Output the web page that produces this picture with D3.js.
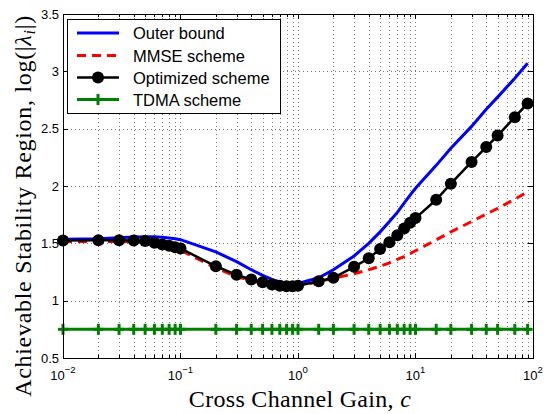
<!DOCTYPE html>
<html>
<head>
<meta charset="utf-8">
<script src="https://cdn.jsdelivr.net/npm/d3@7/dist/d3.min.js"></script>
<style>
  html, body { margin: 0; padding: 0; background: #fff; }
  svg { display: block; }
</style>
</head>
<body>
<svg id="chart" width="544" height="414"></svg>
<script>
// Cross channel gain samples (x axis, log scale)
const cGain = [0.01, 0.02, 0.03, 0.04, 0.05, 0.06, 0.07, 0.08, 0.09, 0.1,
               0.2, 0.3, 0.4, 0.5, 0.6, 0.7, 0.8, 0.9, 1,
               1.5, 2, 3, 4, 5, 6, 7, 8, 9, 10,
               15, 20, 30, 40, 50, 70, 90];

// Achievable stability region per scheme, log(|lambda_i|)
const outerBound = [1.535, 1.54, 1.548, 1.555, 1.558, 1.557, 1.553, 1.547, 1.54, 1.532,
                    1.425, 1.34, 1.27, 1.22, 1.185, 1.163, 1.152, 1.148, 1.15,
                    1.2, 1.27, 1.39, 1.5, 1.6, 1.69, 1.77, 1.85, 1.92, 1.98,
                    2.18, 2.33, 2.52, 2.67, 2.775, 2.94, 3.07];

const mmseScheme = [1.515, 1.516, 1.516, 1.515, 1.51, 1.495, 1.48, 1.465, 1.45, 1.44,
                    1.285, 1.21, 1.175, 1.15, 1.135, 1.128, 1.124, 1.124, 1.128,
                    1.165, 1.195, 1.235, 1.27, 1.30, 1.33, 1.36, 1.385, 1.41, 1.435,
                    1.53, 1.60, 1.69, 1.755, 1.805, 1.885, 1.95];

const optimizedScheme = [1.525, 1.526, 1.526, 1.525, 1.52, 1.505, 1.49, 1.478, 1.465, 1.455,
                         1.30, 1.225, 1.185, 1.16, 1.14, 1.13, 1.125, 1.125, 1.13,
                         1.17, 1.20, 1.295, 1.37, 1.45, 1.51, 1.57, 1.63, 1.68, 1.72,
                         1.88, 2.02, 2.21, 2.34, 2.44, 2.60, 2.72];

const tdmaScheme = [0.75, 0.75, 0.75, 0.75, 0.75, 0.75, 0.75, 0.75, 0.75, 0.75,
                    0.75, 0.75, 0.75, 0.75, 0.75, 0.75, 0.75, 0.75, 0.75,
                    0.75, 0.75, 0.75, 0.75, 0.75, 0.75, 0.75, 0.75, 0.75, 0.75,
                    0.75, 0.75, 0.75, 0.75, 0.75, 0.75, 0.75];

const seriesNames = ["Outer bound", "MMSE scheme", "Optimized scheme", "TDMA scheme"];
const xDecades = [-2, -1, 0, 1, 2];
const yTicks = [0.5, 1, 1.5, 2, 2.5, 3, 3.5];

const svg = d3.select("#chart");
const L = 63, R = 533, T = 14, B = 358;

const x = d3.scaleLog().domain([0.01, 100]).range([L, R]);
const y = d3.scaleLinear().domain([0.5, 3.5]).range([B, T]);

// minor positions inside each decade
const minorX = [];
for (let d = -2; d < 2; d++) {
  for (let k = 1; k <= 9; k++) minorX.push(k * Math.pow(10, d));
}
minorX.push(100);

const grid = svg.append("g");
// vertical dotted grid at every decade step
grid.selectAll("line.vg").data(minorX.filter(v => v > 0.01 && v < 100)).enter()
  .append("line")
  .attr("x1", d => Math.round(x(d)) + 0.5).attr("x2", d => Math.round(x(d)) + 0.5)
  .attr("y1", T).attr("y2", B)
  .attr("stroke", "#777").attr("stroke-width", 1).attr("stroke-dasharray", "1,3");
// horizontal dotted grid at major y ticks
grid.selectAll("line.hg").data(yTicks.filter(v => v > 0.5 && v < 3.5)).enter()
  .append("line")
  .attr("x1", L).attr("x2", R)
  .attr("y1", d => Math.round(y(d)) + 0.5).attr("y2", d => Math.round(y(d)) + 0.5)
  .attr("stroke", "#777").attr("stroke-width", 1).attr("stroke-dasharray", "1,3");

// ticks pointing inward on all four sides
const ticks = svg.append("g").attr("stroke", "#000").attr("stroke-width", 1);
minorX.forEach(v => {
  const isMajor = Math.abs(Math.log10(v) - Math.round(Math.log10(v))) < 1e-9;
  const len = isMajor ? 5 : 3;
  const px = Math.round(x(v)) + 0.5;
  ticks.append("line").attr("x1", px).attr("x2", px).attr("y1", B).attr("y2", B - len);
  ticks.append("line").attr("x1", px).attr("x2", px).attr("y1", T).attr("y2", T + len);
});
yTicks.forEach(v => {
  const py = Math.round(y(v)) + 0.5;
  ticks.append("line").attr("x1", L).attr("x2", L + 5).attr("y1", py).attr("y2", py);
  ticks.append("line").attr("x1", R).attr("x2", R - 5).attr("y1", py).attr("y2", py);
});

// data lines
const line = d3.line().x((d, i) => x(cGain[i])).y(d => y(d));
const plot = svg.append("g");

plot.append("path").datum(outerBound).attr("d", line)
  .attr("fill", "none").attr("stroke", "#0000ff").attr("stroke-width", 3);

plot.append("path").datum(mmseScheme).attr("d", line)
  .attr("fill", "none").attr("stroke", "#ff0000").attr("stroke-width", 3)
  .attr("stroke-dasharray", "9,6");

plot.append("path").datum(optimizedScheme).attr("d", line)
  .attr("fill", "none").attr("stroke", "#000").attr("stroke-width", 2.5);
plot.selectAll("circle.opt").data(optimizedScheme).enter().append("circle")
  .attr("cx", (d, i) => x(cGain[i])).attr("cy", d => y(d)).attr("r", 6)
  .attr("fill", "#000");

const tdmaColor = "#007f00";
plot.append("path").datum(tdmaScheme).attr("d", line)
  .attr("fill", "none").attr("stroke", tdmaColor).attr("stroke-width", 3);
function plus(g, cx, cy) {
  g.append("line").attr("x1", cx).attr("x2", cx).attr("y1", cy - 5.5).attr("y2", cy + 5.5)
    .attr("stroke", tdmaColor).attr("stroke-width", 3);
  g.append("line").attr("x1", cx - 5).attr("x2", cx + 5).attr("y1", cy).attr("y2", cy)
    .attr("stroke", tdmaColor).attr("stroke-width", 3);
}
tdmaScheme.forEach((d, i) => plus(plot, x(cGain[i]), y(d)));

// axes box
svg.append("rect").attr("x", L + 0.5).attr("y", T + 0.5)
  .attr("width", R - L).attr("height", B - T)
  .attr("fill", "none").attr("stroke", "#000").attr("stroke-width", 1);

// tick labels
const tickFont = "'Liberation Sans', Arial, sans-serif";
svg.append("g").selectAll("text").data(yTicks).enter().append("text")
  .attr("x", L - 4).attr("y", d => y(d) + 4.5)
  .attr("text-anchor", "end").attr("font-family", tickFont).attr("font-size", 13)
  .text(d => d3.format(".1~f")(d));

const xl = svg.append("g");
xDecades.forEach(p => {
  const t = xl.append("text").attr("x", x(Math.pow(10, p))).attr("y", 380)
    .attr("text-anchor", "middle").attr("font-family", tickFont).attr("font-size", 13);
  t.append("tspan").text("10");
  t.append("tspan").attr("dy", -7).attr("font-size", 9.5).text(p < 0 ? "\u2212" + (-p) : String(p));
});

// axis titles
const serif = "'Liberation Serif', 'Times New Roman', serif";
const xt = svg.append("text").attr("x", (L + R) / 2 + 2).attr("y", 407)
  .attr("text-anchor", "middle").attr("font-family", serif).attr("font-size", 24)
  .attr("letter-spacing", 0.3);
xt.append("tspan").text("Cross Channel Gain, ");
xt.append("tspan").attr("font-style", "italic").text("c");

const yt = svg.append("text").attr("transform", "translate(31,206) rotate(-90)")
  .attr("text-anchor", "middle").attr("font-family", serif).attr("font-size", 24)
  .attr("letter-spacing", 0.7);
yt.append("tspan").text("Achievable Stability Region, log(|");
yt.append("tspan").attr("font-style", "italic").text("\u03bb");
yt.append("tspan").attr("font-style", "italic").attr("font-size", 16).attr("dy", 4).text("i");
yt.append("tspan").attr("dy", -4).text("|)");

// legend
const lg = svg.append("g");
lg.append("rect").attr("x", 67.5).attr("y", 19.5).attr("width", 213).attr("height", 94)
  .attr("fill", "#fff").attr("stroke", "#000").attr("stroke-width", 1);
const rowsY = [33, 55.5, 77.5, 99.5];
const sx1 = 77, sx2 = 119;
lg.append("line").attr("x1", sx1).attr("x2", sx2).attr("y1", rowsY[0]).attr("y2", rowsY[0])
  .attr("stroke", "#0000ff").attr("stroke-width", 3);
lg.append("line").attr("x1", sx1).attr("x2", sx2).attr("y1", rowsY[1]).attr("y2", rowsY[1])
  .attr("stroke", "#ff0000").attr("stroke-width", 3).attr("stroke-dasharray", "9,6");
lg.append("line").attr("x1", sx1).attr("x2", sx2).attr("y1", rowsY[2]).attr("y2", rowsY[2])
  .attr("stroke", "#000").attr("stroke-width", 2.5);
lg.append("circle").attr("cx", (sx1 + sx2) / 2).attr("cy", rowsY[2]).attr("r", 6).attr("fill", "#000");
lg.append("line").attr("x1", sx1).attr("x2", sx2).attr("y1", rowsY[3]).attr("y2", rowsY[3])
  .attr("stroke", tdmaColor).attr("stroke-width", 3);
plus(lg, (sx1 + sx2) / 2, rowsY[3]);
lg.selectAll("text").data(seriesNames).enter().append("text")
  .attr("x", 133).attr("y", (d, i) => rowsY[i] + 6)
  .attr("font-family", tickFont).attr("font-size", 16.5)
  .text(d => d);
</script>
</body>
</html>
